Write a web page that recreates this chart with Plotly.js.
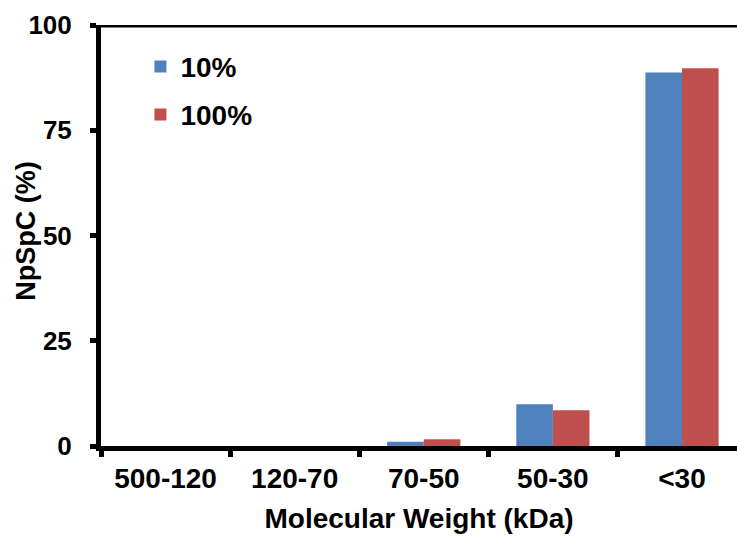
<!DOCTYPE html>
<html>
<head>
<meta charset="utf-8">
<script src="https://cdn.plot.ly/plotly-3.0.1.min.js"></script>
<style>html,body{margin:0;padding:0;overflow:hidden;background:#fff;}</style>
</head>
<body>
<div id="chart" style="width:737px;height:537px;"></div>
<script>
const categories = ["500-120", "120-70", "70-50", "50-30", "<30"];
const series10 = [0, 0, 1.0, 9.9, 88.7];
const series100 = [0, 0, 1.6, 8.5, 89.7];
const seriesNames = ["10%", "100%"];
const yTicks = [0, 25, 50, 75, 100];
const xTitle = "Molecular Weight (kDa)";
const yTitle = "NpSpC (%)";

const FONT = "Liberation Sans, Arial, sans-serif";

const traces = [
  {type: "bar", x: categories, y: series10, name: seriesNames[0], legendgroup: "a",
   marker: {color: "#4F81BD"}},
  {type: "bar", x: categories, y: series100, name: seriesNames[1], legendgroup: "b",
   marker: {color: "#C0504D"}}
];

const layout = {
  width: 737, height: 537,
  margin: {l: 100.5, r: 0, t: 25, b: 91, pad: 0},
  paper_bgcolor: "#fff", plot_bgcolor: "#fff",
  font: {family: FONT, color: "#000", size: 26},
  barmode: "group", bargap: 0.433, bargroupgap: 0,
  showlegend: true,
  legend: {x: 0.062, y: 0.96, xanchor: "left", yanchor: "top",
           font: {family: FONT, size: 28, color: "#000", weight: "bold"},
           traceorder: "grouped", tracegroupgap: 8.5, bgcolor: "rgba(0,0,0,0)"},
  xaxis: {
    type: "category", range: [-0.5, 4.426], fixedrange: true,
    showline: true, linecolor: "#000", linewidth: 5,
    ticks: "outside", tickson: "boundaries", ticklen: 6, tickwidth: 5, tickcolor: "#000",
    ticklabelstandoff: 3,
    tickfont: {family: FONT, size: 28, color: "#000", weight: "bold"},
    showgrid: false, zeroline: false,
    title: {text: xTitle, font: {family: FONT, size: 28, color: "#000", weight: "bold"}, standoff: 17}
  },
  yaxis: {
    range: [0, 100], fixedrange: true,
    tickvals: yTicks, ticktext: yTicks.map(String),
    showline: true, linecolor: "#000", linewidth: 5,
    ticks: "outside", ticklen: 6, tickwidth: 5, tickcolor: "#000",
    ticklabelstandoff: 13,
    tickfont: {family: FONT, size: 26, color: "#000", weight: "bold"},
    showgrid: false, zeroline: false
  },
  annotations: [
    {text: yTitle, xref: "paper", yref: "paper", x: -0.118, y: 0.511,
     xanchor: "center", yanchor: "middle", textangle: -90, showarrow: false,
     font: {family: FONT, size: 27, color: "#000", weight: "bold"}}
  ],
  shapes: [
    {type: "line", xref: "paper", yref: "y", x0: 0, x1: 1, y0: 100, y1: 100,
     line: {color: "#000", width: 5}, layer: "above"}
  ]
};

Plotly.newPlot("chart", traces, layout, {staticPlot: true, displayModeBar: false});
</script>
</body>
</html>
